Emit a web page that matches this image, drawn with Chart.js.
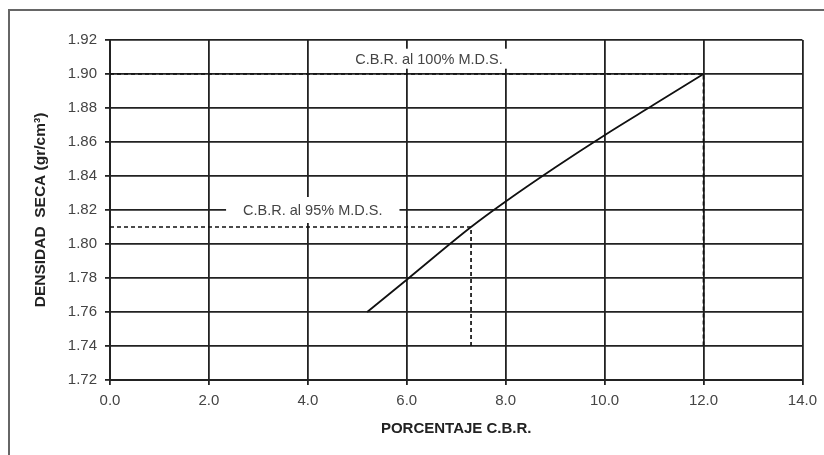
<!DOCTYPE html>
<html>
<head>
<meta charset="utf-8">
<script src="https://cdn.jsdelivr.net/npm/chart.js@4/dist/chart.umd.min.js"></script>
<style>
  html, body { margin: 0; padding: 0; background: #fff; }
  #wrap { width: 824px; height: 455px; }
</style>
</head>
<body>
<div id="wrap"><canvas id="cbr" width="824" height="455"></canvas></div>
<script>
// CBR curve: dry density vs. CBR percentage
const cbrPercent   = [5.2, 6.0, 7.3, 8.0, 9.0, 10.0, 11.0, 12.0];
const dryDensity   = [1.760, 1.779, 1.810, 1.825, 1.845, 1.864, 1.882, 1.900];

// Reference levels (max dry density and 95 % of it) and the CBR read at each
const mdsLevels    = [1.900, 1.810];
const cbrAtLevels  = [12.0, 7.3];
const levelLabels  = ['C.B.R. al 100% M.D.S.', 'C.B.R. al 95% M.D.S.'];
const labelAnchorX = [6.45, 4.1];
const labelAnchorY = [1.909, 1.82];
const dropTo       = 1.74;

// Axis ranges / ticks
const xMin = 0, xMax = 14, xStep = 2;
const yMin = 1.72, yMax = 1.92, yStep = 0.02;

const FONT = '"Liberation Sans", Arial, sans-serif';

const curve = cbrPercent.map((x, i) => ({ x, y: dryDensity[i] }));

const guideSets = mdsLevels.map((lvl, i) => ({
  data: [
    { x: xMin, y: lvl },
    { x: cbrAtLevels[i], y: lvl },
    { x: cbrAtLevels[i], y: dropTo }
  ],
  showLine: true,
  borderColor: '#111',
  borderWidth: 1.7,
  borderDash: [4, 3],
  pointRadius: 0,
  tension: 0
}));

const framePlugin = {
  id: 'frame',
  beforeDraw(chart) {
    const ctx = chart.ctx;
    ctx.save();
    ctx.fillStyle = '#fff';
    ctx.fillRect(0, 0, chart.width, chart.height);
    ctx.strokeStyle = '#666';
    ctx.lineWidth = 2;
    ctx.beginPath();
    ctx.moveTo(9, chart.height);
    ctx.lineTo(9, 10);
    ctx.lineTo(chart.width, 10);
    ctx.stroke();
    ctx.restore();
  }
};

const boxHeights = [20, 26];

const levelLabelPlugin = {
  id: 'levelLabels',
  afterDatasetsDraw(chart) {
    const ctx = chart.ctx;
    const xs = chart.scales.x, ys = chart.scales.y;
    ctx.save();
    ctx.font = '14.5px ' + FONT;
    ctx.textAlign = 'center';
    ctx.textBaseline = 'middle';
    levelLabels.forEach((txt, i) => {
      const cx = xs.getPixelForValue(labelAnchorX[i]);
      const cy = ys.getPixelForValue(labelAnchorY[i]);
      const w = ctx.measureText(txt).width + 34;
      const h = boxHeights[i];
      ctx.fillStyle = '#fff';
      ctx.fillRect(cx - w / 2, cy - h / 2, w, h);
      ctx.fillStyle = '#444';
      ctx.fillText(txt, cx, cy + 1);
    });
    ctx.restore();
  }
};

new Chart(document.getElementById('cbr'), {
  type: 'scatter',
  data: {
    datasets: [
      {
        data: curve,
        showLine: true,
        borderColor: '#111',
        borderWidth: 1.8,
        pointRadius: 0,
        cubicInterpolationMode: 'monotone'
      },
      ...guideSets
    ]
  },
  options: {
    responsive: false,
    animation: false,
    events: [],
    layout: { padding: { left: 0, right: 21, top: 40, bottom: 0 } },
    plugins: {
      legend: { display: false },
      tooltip: { enabled: false }
    },
    scales: {
      x: {
        type: 'linear',
        min: xMin, max: xMax,
        afterFit(scale) { scale.height = 75; },
        ticks: {
          stepSize: xStep,
          padding: 7,
          maxRotation: 0,
          color: '#444',
          font: { family: FONT, size: 15 },
          callback: v => Number(v).toFixed(1)
        },
        grid: { color: '#222', lineWidth: 1.8, tickLength: 5, tickColor: '#222' },
        border: { color: '#222', width: 2 },
        title: {
          display: true,
          text: 'PORCENTAJE C.B.R.',
          color: '#222',
          padding: { top: 0, bottom: 17 },
          font: { family: FONT, size: 15, weight: 'bold' }
        }
      },
      y: {
        type: 'linear',
        min: yMin, max: yMax,
        afterFit(scale) { scale.width = 110; },
        ticks: {
          stepSize: yStep,
          padding: 8,
          color: '#444',
          font: { family: FONT, size: 15 },
          callback: v => Number(v).toFixed(2)
        },
        grid: { color: '#222', lineWidth: 1.8, tickLength: 5, tickColor: '#222' },
        border: { color: '#222', width: 2 },
        title: {
          display: true,
          text: 'DENSIDAD  SECA (gr/cm³)',
          color: '#222',
          padding: { top: 31, bottom: 0 },
          font: { family: FONT, size: 15.5, weight: 'bold' }
        }
      }
    }
  },
  plugins: [framePlugin, levelLabelPlugin]
});
</script>
</body>
</html>
